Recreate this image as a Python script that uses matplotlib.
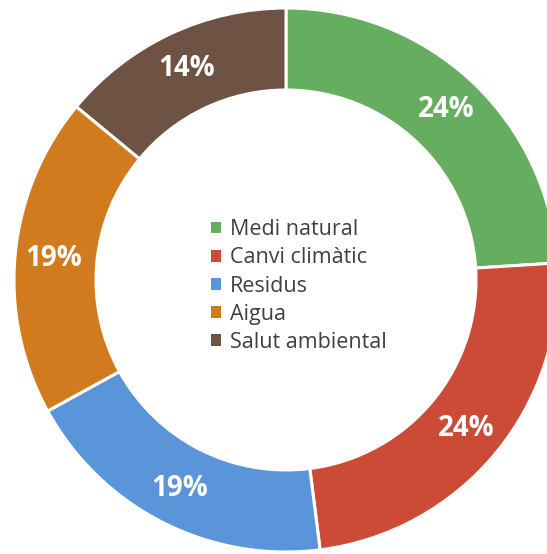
import matplotlib

matplotlib.use("Agg")
import matplotlib.pyplot as plt  # noqa: E402
from matplotlib.patches import Patch  # noqa: E402

categories = ["Medi natural", "Canvi climàtic", "Residus", "Aigua", "Salut ambiental"]
shares = [24, 24, 19, 19, 14]
colors = ["#66AE5F", "#CC4B37", "#5B95D9", "#D17B1E", "#6E5344"]

W, H = 547, 554
CX, CY = 286, 280  # centre in pixels from top-left
R_OUT, R_IN = 272, 190

plt.rcParams["font.family"] = ["Open Sans", "DejaVu Sans"]

fig = plt.figure(figsize=(W / 100, H / 100), dpi=100)
ax = fig.add_axes([0, 0, 1, 1])

wedges, _, autotexts = ax.pie(
    shares,
    colors=colors,
    radius=R_OUT,
    startangle=90,
    counterclock=False,
    autopct="%d%%",
    pctdistance=(R_OUT + R_IN) / 2 / R_OUT + 0.01,
    wedgeprops=dict(width=R_OUT - R_IN, edgecolor="white", linewidth=2.2),
    textprops=dict(color="white", fontsize=20, fontweight="bold"),
)
# pie() resets the limits, so set them afterwards
ax.set_xlim(-CX, W - CX)
ax.set_ylim(-(H - CY), CY)
ax.set_aspect("equal")
ax.axis("off")

handles = [Patch(facecolor=c, edgecolor="none") for c in colors]
fig.legend(
    handles,
    categories,
    loc="center",
    bbox_to_anchor=(299 / W, 1 - 286 / H),
    frameon=False,
    fontsize=15.5,
    labelcolor="#404040",
    handlelength=0.45,
    handleheight=0.45,
    handletextpad=0.45,
    labelspacing=0.33,
)

fig.savefig("out.png", dpi=100)
